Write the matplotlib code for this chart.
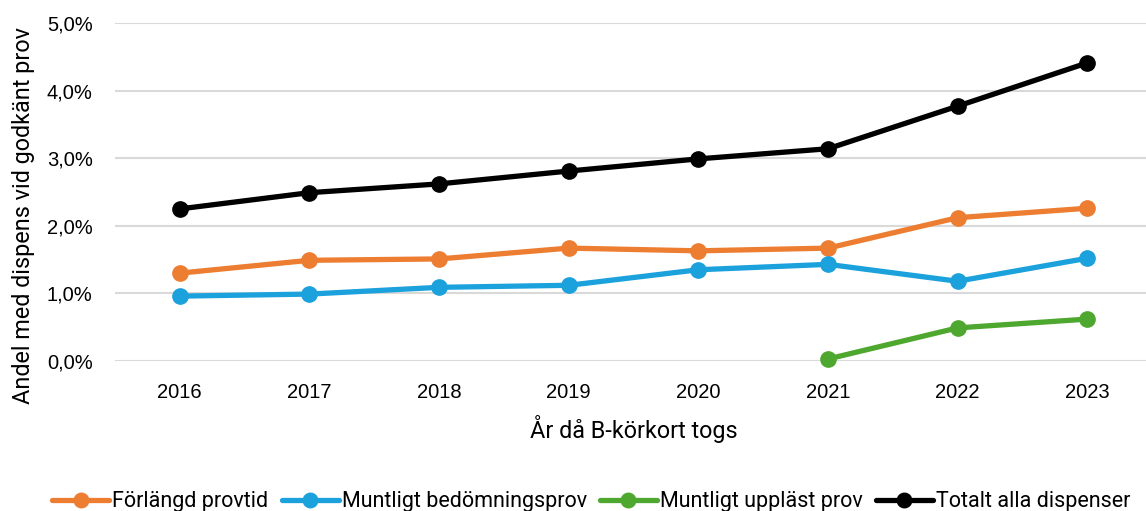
import matplotlib.pyplot as plt
from matplotlib.ticker import FuncFormatter

years = [2016, 2017, 2018, 2019, 2020, 2021, 2022, 2023]
forlangd = [1.30, 1.49, 1.51, 1.67, 1.63, 1.67, 2.12, 2.26]
bedomning = [0.96, 0.99, 1.09, 1.12, 1.35, 1.43, 1.18, 1.52]
upplast_years = [2021, 2022, 2023]
upplast = [0.03, 0.49, 0.62]
totalt = [2.25, 2.49, 2.62, 2.81, 2.99, 3.14, 3.77, 4.41]

series = [
    ("Förlängd provtid", years, forlangd, "#ed7d31"),
    ("Muntligt bedömningsprov", years, bedomning, "#1ba1dc"),
    ("Muntligt uppläst prov", upplast_years, upplast, "#4ea72e"),
    ("Totalt alla dispenser", years, totalt, "#000000"),
]

label_font = ["Roboto", "DejaVu Sans"]
tick_font = ["Liberation Sans", "DejaVu Sans"]

fig = plt.figure(figsize=(11.46, 5.11), dpi=100)
ax = fig.add_axes([0.1003, 0.2935, 0.905, 0.6615])

pos = {y: i for i, y in enumerate(years)}
for name, xs, ys, col in series:
    ax.plot([pos[x] for x in xs], ys, color=col, lw=3.8, marker="o", ms=11,
            label=name, clip_on=False, zorder=3, solid_capstyle="round")

ax.set_xlim(-0.5, len(years) - 0.5)
ax.set_ylim(0, 5)
ax.set_yticks([0, 1, 2, 3, 4, 5])
ax.yaxis.set_major_formatter(FuncFormatter(lambda v, p: f"{v:.1f}%".replace(".", ",")))
ax.set_xticks(range(len(years)))
ax.set_xticklabels([str(y) for y in years])
ax.grid(axis="y", color="#d9d9d9", lw=1.5, zorder=0)
ax.set_axisbelow(True)
for s in ax.spines.values():
    s.set_visible(False)
ax.tick_params(length=0, labelsize=14.5, pad=16)
for lab in ax.get_xticklabels() + ax.get_yticklabels():
    lab.set_family(tick_font)

ax.set_xlabel("År då B-körkort togs", fontsize=16.8, family=label_font, labelpad=9)
ax.set_ylabel("Andel med dispens vid godkänt prov", fontsize=16.8, family=label_font)
ax.yaxis.set_label_coords(-0.077, 0.43)

fig.legend(loc="lower center", bbox_to_anchor=(0.516, -0.04), ncol=4, frameon=False,
           prop={"family": label_font, "size": 15.5}, handlelength=2.65, handletextpad=0.15,
           columnspacing=0.6, markerscale=0.95)

fig.savefig("out.png", dpi=100)
